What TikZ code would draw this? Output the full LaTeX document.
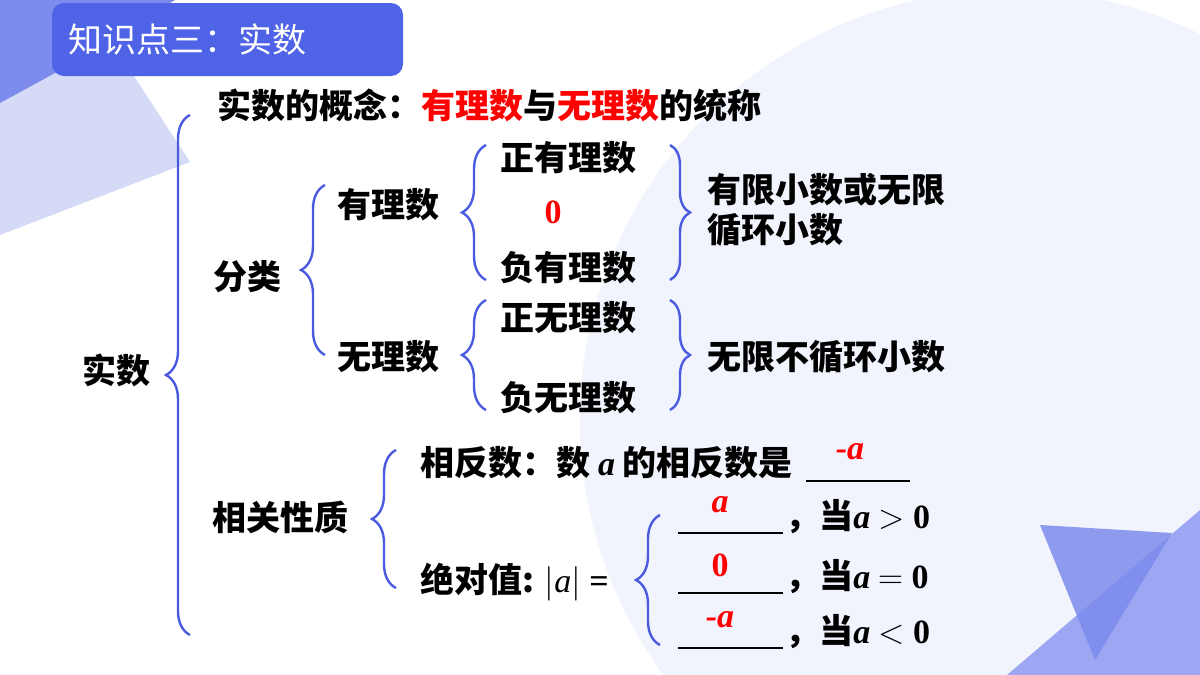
\documentclass[tikz,border=0pt]{standalone}
\usepackage{fontspec}
\setmainfont{Liberation Serif}
\newfontfamily\cjk{Noto Sans CJK SC}
\usetikzlibrary{decorations.pathreplacing}
\definecolor{bluebrace}{HTML}{4A5BE0}
\definecolor{titlebox}{HTML}{4F63E7}
\definecolor{lavender}{HTML}{F1F3FD}
\definecolor{lighttri}{HTML}{D5DAF7}
\definecolor{midtri}{HTML}{9DA6F3}
\definecolor{darktri}{HTML}{7C8BEC}
\tikzset{
  txt/.style={font=\cjk\bfseries\fontsize{17pt}{19pt}\selectfont, inner sep=0pt},
  ans/.style={font=\bfseries\itshape\fontsize{17pt}{19pt}\selectfont, text=red, inner sep=0pt},
  brc/.style={draw=bluebrace, line width=1.2pt, decorate, decoration={brace, amplitude=12pt, aspect=#1, mirror}},
  brc/.default=0.5,
  rbrc/.style={draw=bluebrace, line width=1.2pt, decorate, decoration={brace, amplitude=10pt}},
  blank/.style={line width=0.8pt}
}
\begin{document}
\begin{tikzpicture}[x=0.5pt,y=-0.5pt]
\useasboundingbox (0,0) rectangle (1200,675);
% background
\begin{scope}
\clip (0,0) rectangle (1200,675);
\fill[lavender] (1010,420) circle (430);
\fill[lighttri] (0,60) -- (130,70) -- (190,162) -- (0,235) -- cycle;
\fill[darktri] (0,0) -- (175,0) -- (55,73) -- (0,103) -- cycle;
\fill[midtri] (1007,675) -- (1200,510) -- (1200,675) -- cycle;
\fill[darktri, opacity=0.85] (1040,525) -- (1172,533) -- (1095,660) -- cycle;
\end{scope}
% title
\node[fill=titlebox, rounded corners=6pt, minimum width=175.5pt, minimum height=36.5pt] (title) at (227.5,39.5) {};
\node[txt, white, font=\cjk\fontsize{17pt}{19pt}\selectfont, anchor=west] (titletext) at (68,39.5) {知识点三：实数};
% texts
\node[txt] (shishu) at (117,370) {实数};
\node[txt, anchor=west] (gainian) at (217,105) {实数的概念：\textcolor{red}{有理数}与\textcolor{red}{无理数}的统称};
\node[txt] (fenlei) at (247,277) {分类};
\node[txt] (youli) at (388,205) {有理数};
\node[txt] (zhengyou) at (568,158) {正有理数};
\node[ans, font=\bfseries\fontsize{17pt}{19pt}\selectfont] (zero) at (553,212) {0};
\node[txt] (fuyou) at (568,268) {负有理数};
\node[txt, anchor=west] (youxian) at (707,190) {有限小数或无限};
\node[txt, anchor=west] (xunhuan) at (707,230) {循环小数};
\node[txt] (wuli) at (388,357) {无理数};
\node[txt] (zhengwu) at (568,318) {正无理数};
\node[txt] (fuwu) at (568,398) {负无理数};
\node[txt, anchor=west] (wuxian) at (707,357) {无限不循环小数};
\node[txt] (xingzhi) at (280,517) {相关性质};
\node[txt, anchor=west] (xiangfan) at (420,463) {相反数：数 {\rmfamily\itshape a} 的相反数是};
\node[txt, anchor=west] (juedui) at (420,582) {绝对值: {\rmfamily\bfseries $|\mathit{a}|$ =}};
\draw[blank] (806,481) coordinate (xfa) -- (910,481) coordinate (xfb);
\node[ans] (ansneg) at (850,452) {-a};
\foreach \y/\rel/\a/\n in {533/>/a/one, 593/=/\upshape 0/two, 648/</-a/three} {
  \draw[blank] (678,\y) coordinate (b\n) -- (783,\y) coordinate (e\n);
  \node[txt, anchor=base west] (dang\n) at (785,\y-5) {，当{\rmfamily\bfseries\itshape a} {\rmfamily\bfseries $\rel$ 0}};
  \node[ans] (ans\n) at (720,\y-28) {\a};
}
% braces
\draw[brc] (190,115) -- (190,635);
\draw[brc] (325,185) -- (325,355);
\draw[brc] (486,145) -- (486,280);
\draw[rbrc] (670,145) -- (670,280);
\draw[brc] (486,300) -- (486,410);
\draw[rbrc] (670,300) -- (670,410);
\draw[brc] (396,450) -- (396,588);
\draw[brc] (660,515) -- (660,645);
\end{tikzpicture}
\end{document}
